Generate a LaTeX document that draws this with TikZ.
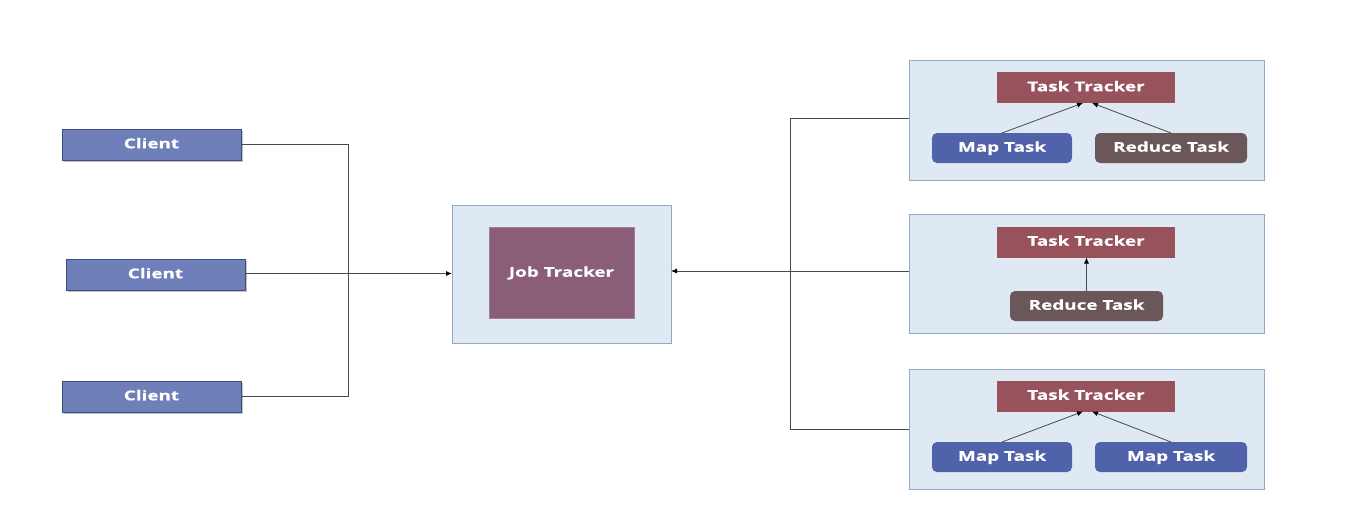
\documentclass[tikz,border=0pt]{standalone}
\usepackage{fontspec}
\setmainfont{Open Sans}[FakeStretch=1.4, BoldFeatures={FakeBold=0.5}]
\usetikzlibrary{arrows.meta,shadows}
\definecolor{clientfill}{HTML}{6F7FBA}
\definecolor{clientdraw}{HTML}{3E4C7E}
\definecolor{panelfill}{HTML}{DFE9F3}
\definecolor{paneldraw}{HTML}{92A8C6}
\definecolor{jobfill}{HTML}{8B5E77}
\definecolor{ttfill}{HTML}{97525C}
\definecolor{mapfill}{HTML}{5062A9}
\definecolor{redfill}{HTML}{6B5759}
\definecolor{linec}{HTML}{4A4A4A}
\tikzset{
  box/.style={rectangle, inner sep=0pt, outer sep=0pt, text=white, text height=1.45ex, text depth=0.05ex,
     font=\fontsize{13.5}{16}\selectfont\bfseries},
  clientbox/.style={box, fill=clientfill, draw=clientdraw, line width=0.8pt, minimum width=179pt, minimum height=31pt,
     drop shadow={shadow xshift=1.5pt, shadow yshift=-1.5pt, opacity=0.4, fill=black!60}},
  panel/.style={rectangle, fill=panelfill, draw=paneldraw, line width=0.8pt, inner sep=0pt, outer sep=0pt},
  jobbox/.style={box, fill=jobfill, draw=jobfill!80!white, line width=0.5pt, minimum width=145pt, minimum height=91pt},
  ttbox/.style={box, fill=ttfill, minimum width=178pt, minimum height=31pt},
  taskbox/.style={box, rounded corners=5pt, minimum height=30pt},
  conn/.style={draw=linec, line width=0.8pt},
  arr/.style={conn, -{Latex[length=6pt,width=5pt,color=black]}},
}
\begin{document}
\begin{tikzpicture}[x=1pt,y=-1pt]
\useasboundingbox (0,0) rectangle (1371,506);
% clients
\node[clientbox] (c1) at (151.5,144.5) {Client};
\node[clientbox] (c2) at (155.5,274.5) {Client};
\node[clientbox] (c3) at (151.5,396.5) {Client};
\coordinate (busL) at (348,270);
\coordinate (busR) at (790,270);
% job tracker
\node[panel, minimum width=219pt, minimum height=138pt] (jp) at (561.5,274) {};
\node[jobbox] (jt) at (561.5,273) {Job Tracker};
% right panels
\node[panel, minimum width=355pt, minimum height=120pt] (p1) at (1086.5,120) {};
\node[panel, minimum width=355pt, minimum height=119pt] (p2) at (1086.5,273.5) {};
\node[panel, minimum width=355pt, minimum height=120pt] (p3) at (1086.5,429) {};
% panel 1
\node[ttbox] (t1) at (1086,87.5) {Task Tracker};
\node[taskbox, fill=mapfill, minimum width=140pt] (m1) at (1002,148) {Map Task};
\node[taskbox, fill=redfill, minimum width=152pt] (r1) at (1171,148) {Reduce Task};
% panel 2
\node[ttbox] (t2) at (1086,242) {Task Tracker};
\node[taskbox, fill=redfill, minimum width=153pt] (r2) at (1086.5,306) {Reduce Task};
% panel 3
\node[ttbox] (t3) at (1086,396) {Task Tracker};
\node[taskbox, fill=mapfill, minimum width=140pt] (m3) at (1002,457) {Map Task};
\node[taskbox, fill=mapfill, minimum width=152pt] (m4) at (1171,457) {Map Task};
% connectors left
\draw[conn] (c1.east) -- (c1.east -| busL) |- (c3.east);
\draw[arr] ([yshift=1pt]c2.east) -- ([yshift=1pt]c2.east -| jp.west);
% connectors right
\draw[conn] ([yshift=2pt]p1.west) -- ([yshift=2pt]p1.west -| busR) |- (p3.west);
\draw[arr] ([yshift=2.5pt]p2.west) -- ([yshift=2.5pt]p2.west -| jp.east);
% internal arrows
\draw[arr] (m1.north) -- ([xshift=-3pt]t1.south);
\draw[arr] (r1.north) -- ([xshift=6pt]t1.south);
\draw[arr] (r2.north) -- (r2.north |- t2.south);
\draw[arr] (m3.north) -- ([xshift=-3pt]t3.south);
\draw[arr] (m4.north) -- ([xshift=6pt]t3.south);
\end{tikzpicture}
\end{document}
